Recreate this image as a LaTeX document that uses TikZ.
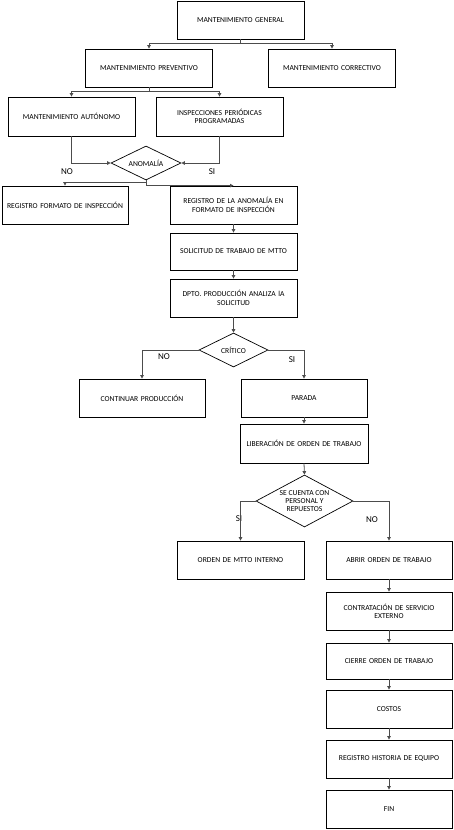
\documentclass[tikz,border=0pt]{standalone}
\usepackage{fontspec}
\setmainfont{Carlito}
\usetikzlibrary{arrows.meta,shapes.geometric}
\begin{document}
\begin{tikzpicture}[x=1pt,y=-1pt,
  box/.style={draw=black,line width=0.8pt,rectangle,minimum width=127pt,minimum height=38pt,
    text width=122pt,align=center,inner sep=0pt,font=\fontsize{7.6}{8.3}\selectfont},
  dia/.style={draw=black,line width=0.7pt,diamond,inner sep=0pt},
  dtxt/.style={align=center,inner sep=0pt,font=\fontsize{7.6}{8.3}\selectfont},
  lbl/.style={inner sep=0pt,font=\fontsize{9}{10}\selectfont},
  arr/.style={draw=black!70,line width=0.8pt,-{Triangle[width=3.5pt,length=3.5pt]}},
  ln/.style={draw=black!70,line width=0.8pt}]
\useasboundingbox (0,0) rectangle (454,830);
\node[box] (gen) at (240.5,20) {MANTENIMIENTO GENERAL};
\node[box] (prev) at (149,68) {MANTENIMIENTO PREVENTIVO};
\node[box] (corr) at (332,68) {MANTENIMIENTO CORRECTIVO};
\node[box,minimum height=39pt] (auto) at (71.5,116.5) {MANTENIMIENTO AUTÓNOMO};
\node[box,minimum height=39pt] (insp) at (219.5,116.5) {INSPECCIONES PERIÓDICAS\\PROGRAMADAS};
\node[dia,minimum width=70pt,minimum height=34pt] (anom) at (146,163) {};
\node[dtxt] (anomt) at (anom) {ANOMALÍA};
\node[box,minimum width=126pt] (regf) at (65,205) {REGISTRO FORMATO DE INSPECCIÓN};
\node[box] (rega) at (233.5,205) {REGISTRO DE LA ANOMALÍA EN\\FORMATO DE INSPECCIÓN};
\node[box,minimum height=37pt] (sol) at (233.5,251.5) {SOLICITUD DE TRABAJO DE MTTO};
\node[box] (dpto) at (233.5,298) {DPTO. PRODUCCIÓN ANALIZA lA\\SOLICITUD};
\node[dia,minimum width=69pt,minimum height=34pt] (crit) at (233.5,350) {};
\node[dtxt] (critt) at (crit) {CRÍTICO};
\node[box,minimum width=126pt] (cont) at (142,398) {CONTINUAR PRODUCCIÓN};
\node[box,minimum width=126pt] (par) at (304,398) {PARADA};
\node[box,minimum width=128pt,minimum height=39pt] (lib) at (304,443.5) {LIBERACIÓN DE ORDEN DE TRABAJO};
\node[dia,minimum width=97pt,minimum height=52pt] (cta) at (304.5,501) {};
\node[dtxt] (ctat) at (cta) {SE CUENTA CON\\PERSONAL Y\\REPUESTOS};
\node[box] (oint) at (240.5,560) {ORDEN DE MTTO INTERNO};
\node[box,minimum width=126pt] (abrir) at (389,560) {ABRIR ORDEN DE TRABAJO};
\node[box,minimum width=126pt] (contr) at (389,611) {CONTRATACIÓN DE SERVICIO\\EXTERNO};
\node[box,minimum width=126pt,minimum height=36pt] (cierre) at (389,661) {CIERRE ORDEN DE TRABAJO};
\node[box,minimum width=126pt] (costos) at (389,709) {COSTOS};
\node[box,minimum width=126pt] (hist) at (389,759) {REGISTRO HISTORIA DE EQUIPO};
\node[box,minimum width=126pt] (fin) at (389,809) {FIN};
% labels
\node[lbl] (no1) at (67,172) {NO};
\node[lbl] (si1) at (212,172) {SI};
\node[lbl] (no2) at (164,357) {NO};
\node[lbl] (si2) at (292,360) {SI};
\node[lbl] (si3) at (239,519) {SI};
\node[lbl] (no3) at (372,520) {NO};
% connectors
\coordinate (g1) at (240.5,43);
\draw[ln] (gen.south) -- (g1);
\draw[arr] (g1) -| (prev.north);
\draw[arr] (g1) -| (corr.north);
\coordinate (p1) at (149,91);
\draw[ln] (prev.south) -- (p1);
\draw[arr] (p1) -| (auto.north);
\draw[arr] (p1) -| (insp.north);
\draw[arr] (auto.south) |- (anom.west);
\draw[arr] (insp.south) |- (anom.east);
\coordinate (a1) at (146,182);
\draw[ln] (anom.south) -- (a1);
\draw[arr] (a1) -| (regf.north);
\draw[arr] (anom.south) |- (rega.north);
\draw[arr] (rega.south) -- (sol.north);
\draw[arr] (sol.south) -- (dpto.north);
\draw[arr] (dpto.south) -- (crit.north);
\draw[arr] (crit.west) -| (cont.north);
\draw[arr] (crit.east) -| (par.north);
\draw[arr] (par.south) -- (lib.north);
\draw[arr] (lib.south) -- (cta.north);
\draw[arr] (cta.west) -| (oint.north);
\draw[arr] (cta.east) -| (abrir.north);
\draw[arr] (abrir.south) -- (contr.north);
\draw[arr] (contr.south) -- (cierre.north);
\draw[arr] (cierre.south) -- (costos.north);
\draw[arr] (costos.south) -- (hist.north);
\draw[arr] (hist.south) -- (fin.north);
\end{tikzpicture}
\end{document}
